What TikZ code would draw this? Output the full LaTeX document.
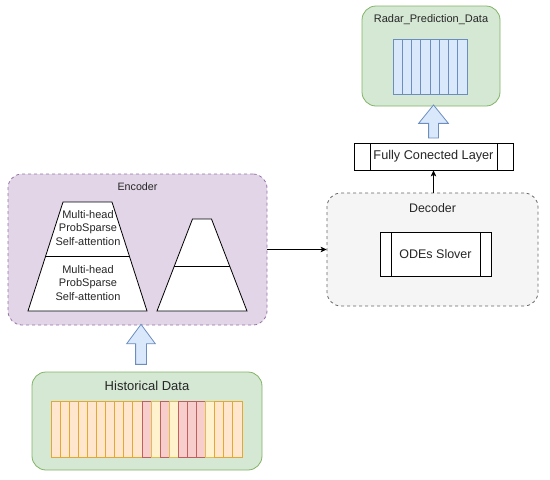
\documentclass[tikz,border=0pt]{standalone}
\usepackage{fontspec}
\setmainfont{Liberation Sans}
\usetikzlibrary{arrows.meta,positioning,calc,shapes.arrows}
\definecolor{Ink}{HTML}{262626}
\definecolor{GreenFill}{HTML}{D5E8D4}
\definecolor{GreenLine}{HTML}{82B366}
\definecolor{Lilac}{HTML}{E1D5E7}
\definecolor{LilacLine}{HTML}{9673A6}
\definecolor{Ash}{HTML}{F5F5F5}
\definecolor{AshLine}{HTML}{666666}
\definecolor{BlueFill}{HTML}{DAE8FC}
\definecolor{BlueLine}{HTML}{6C8EBF}
\definecolor{PeachFill}{HTML}{FFE6CC}
\definecolor{PeachLine}{HTML}{E3A832}
\definecolor{CreamFill}{HTML}{FFF2CC}
\definecolor{CreamLine}{HTML}{E0BC55}
\definecolor{RoseFill}{HTML}{F8CECC}
\definecolor{RoseLine}{HTML}{C0605C}
\tikzset{
  greenbox/.style={draw=GreenLine,fill=GreenFill,line width=.8pt,rounded corners=14pt,inner sep=0pt},
  encbox/.style={draw=LilacLine,fill=Lilac,dashed,line width=.8pt,rounded corners=14pt,inner sep=0pt},
  decbox/.style={draw=AshLine,fill=Ash,dashed,line width=.8pt,rounded corners=14pt,inner sep=0pt},
  title/.style={text=Ink,inner sep=0pt},
  process/.style={draw=black,fill=white,line width=.8pt,text=Ink,inner sep=0pt,
    path picture={
      \draw[line width=.8pt] ($(path picture bounding box.north west)!.1!(path picture bounding box.north east)$) -- ($(path picture bounding box.south west)!.1!(path picture bounding box.south east)$);
      \draw[line width=.8pt] ($(path picture bounding box.north east)!.1!(path picture bounding box.north west)$) -- ($(path picture bounding box.south east)!.1!(path picture bounding box.south west)$);
    }},
  layer/.style={draw=black,fill=white,line width=.8pt},
  attn/.style={text=Ink,align=center,inner sep=0pt,font=\fontsize{11}{13.3}\selectfont},
  fatarrow/.style={single arrow,draw=BlueLine,fill=BlueFill,line width=.8pt,shape border rotate=90,inner sep=5pt,
    single arrow head extend=9pt,single arrow tip angle=73,minimum height=40pt},
  bar/.style={inner sep=0pt,line width=.8pt,minimum width=9.1pt,minimum height=56pt},
  bluebar/.style={bar,draw=BlueLine,fill=BlueFill,minimum width=9.25pt,minimum height=55pt},
  peach/.style={bar,draw=PeachLine,fill=PeachFill},
  cream/.style={bar,draw=CreamLine,fill=CreamFill},
  rose/.style={bar,draw=RoseLine,fill=RoseFill},
  flow/.style={-{Stealth[length=6pt,width=5.5pt,inset=1.5pt]},draw=black,line width=.8pt}
}
\begin{document}
\begin{tikzpicture}[x=1pt,y=-1pt,node distance=0pt]
  \useasboundingbox (0,0) rectangle (550,480);
  \node[greenbox,minimum width=138pt,minimum height=100pt] (radar) at (431,56) {};
  \node[title,font=\fontsize{11}{13}\selectfont,below=9pt of radar.north] (radartitle) {Radar\_Prediction\_Data};
  \foreach \i in {1,...,8}
    \node[bluebar] (rb\i) at ({393+9.25*(\i-.5)},66.5) {};
  \node[fatarrow,minimum height=33pt,inner sep=4.5pt,single arrow head extend=10pt,single arrow tip angle=78] (up1) at (433.5,124.5) {};
  \node[process,minimum width=159pt,minimum height=27pt,font=\fontsize{12.7}{14}\selectfont] (fc) at (433.5,156.5) {Fully Conected Layer};
  \node[decbox,minimum width=211pt,minimum height=113pt] (dec) at (432.5,249.5) {};
  \node[title,font=\fontsize{12.4}{14}\selectfont,below=11pt of dec.north] (dectitle) {Decoder};
  \node[process,minimum width=111pt,minimum height=44pt,font=\fontsize{12.5}{14}\selectfont] (ode) at (435.5,254) {ODEs Slover};
  \node[encbox,minimum width=259pt,minimum height=151pt] (enc) at (137.5,249.5) {};
  \node[title,font=\fontsize{10.7}{12}\selectfont,below=8.5pt of enc.north] (enctitle) {Encoder};
  \coordinate (l1bl) at (28,311);
  \coordinate (l1tl) at (63,202);
  \coordinate (l1tr) at (112,202);
  \coordinate (l1br) at (147,311);
  \draw[layer] (l1bl) -- (l1tl) -- (l1tr) -- (l1br) -- cycle;
  \draw[layer] ($(l1bl)!.505!(l1tl)$) -- ($(l1br)!.505!(l1tr)$);
  \node[attn] (l1top) at (88,228) {Multi-head\\ProbSparse\\Self-attention};
  \node[attn] (l1bot) at (88,283) {Multi-head\\ProbSparse\\Self-attention};
  \coordinate (l2bl) at (157,311);
  \coordinate (l2tl) at (192.5,219);
  \coordinate (l2tr) at (211.5,219);
  \coordinate (l2br) at (247,311);
  \draw[layer] (l2bl) -- (l2tl) -- (l2tr) -- (l2br) -- cycle;
  \draw[layer] ($(l2bl)!.49!(l2tl)$) -- ($(l2br)!.49!(l2tr)$);
  \node[fatarrow] (up2) at (141,348) {};
  \node[greenbox,minimum width=230pt,minimum height=98pt] (hist) at (147,421) {};
  \node[title,font=\fontsize{13}{15}\selectfont,below=9pt of hist.north] (histtitle) {Historical Data};
  \foreach \kind [count=\i] in {peach,peach,peach,peach,peach,peach,peach,peach,peach,peach,rose,cream,rose,cream,rose,rose,rose,cream,peach,peach,peach}
    \node[\kind] (hb\i) at ({51+9.095*(\i-.5)},429) {};
  \draw[flow] (enc.east) -- (dec.west);
  \draw[flow] (fc.south |- dec.north) -- (fc.south);
\end{tikzpicture}
\end{document}
